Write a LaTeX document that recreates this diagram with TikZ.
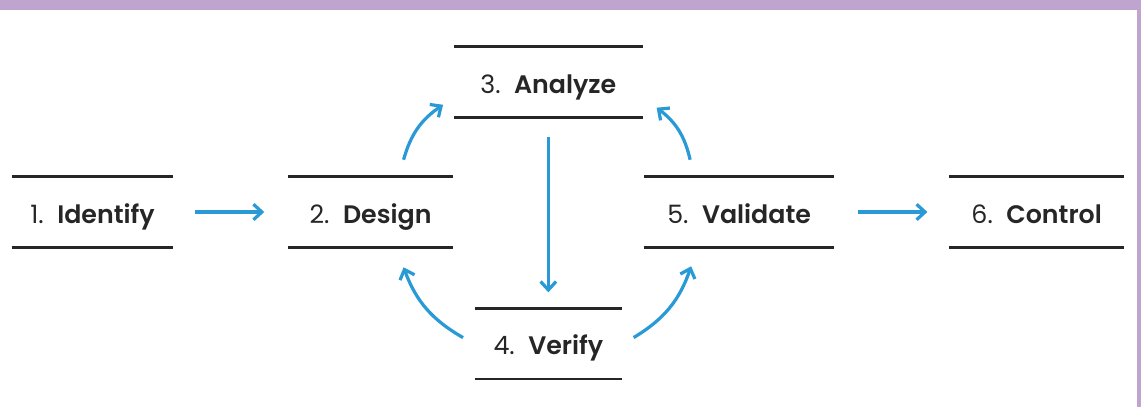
\documentclass[tikz,border=0pt]{standalone}
\usepackage{fontspec}
\setmainfont{Poppins}[BoldFont={Poppins SemiBold}]
\usepackage{xcolor}
\usetikzlibrary{arrows.meta,positioning,calc}

\definecolor{flowblue}{HTML}{2A9AD6}
\definecolor{rulegray}{HTML}{262626}
\definecolor{bandpurple}{HTML}{BEA4CF}

\begin{document}
\begin{tikzpicture}[
  node distance=2.875cm,
  stepbox/.style={rectangle, minimum height=1.75cm, inner sep=0pt, text height=0.7cm, text depth=0.15cm, align=center, font=\fontsize{18}{22}\selectfont, text=rulegray},
  rule/.style={rulegray, line width=1.8pt},
  arr/.style={-{Straight Barb[length=6pt,width=11pt]}, flowblue, line width=2.3pt}
]

% Frame
\useasboundingbox (-2.3125,-4.875) rectangle (26.2125,5.3);
\fill[bandpurple] (-2.3125,5.05) rectangle (26.2125,5.3);
\fill[bandpurple] (26.12,-4.875) rectangle (26.2125,5.3);

% Main row
\node[stepbox, minimum width=4.025cm] (identify) at (0,0) {1.\ \ \textbf{Identify}};
\node[stepbox, minimum width=4.1cm, right=of identify] (design) {2.\ \ \textbf{Design}};
\node[stepbox, minimum width=4.75cm, right=4.775cm of design] (validate) {5.\ \ \textbf{Validate}};
\node[stepbox, minimum width=4.35cm, right=of validate] (control) {6.\ \ \textbf{Control}};

% Loop above and below
\node[stepbox, minimum width=4.7cm] (analyze) at ($(design.east)!0.5!(validate.west)+(0,3.25)$) {3.\ \ \textbf{Analyze}};
\node[stepbox, minimum width=3.65cm] (verify) at ($(design.east)!0.5!(validate.west)+(0,-3.29)$) {4.\ \ \textbf{Verify}};

% Rules over and under each step
\foreach \n in {identify,design,analyze,verify,validate,control}
  \draw[rule] (\n.north west) -- (\n.north east) (\n.south west) -- (\n.south east);

% Straight arrows
\draw[arr, shorten <=0.55cm, shorten >=0.6cm] (identify) -- (design);
\draw[arr, shorten <=0.6cm, shorten >=0.55cm] (validate) -- (control);
\draw[arr, shorten <=0.5cm, shorten >=0.4cm] (analyze) -- (verify);

% Curved arrows
\draw[arr] ([xshift=0.825cm,yshift=0.425cm]design.north) to[bend left=20] ([xshift=-0.275cm,yshift=0.3125cm]analyze.south west);
\draw[arr] ([xshift=-1.225cm,yshift=0.425cm]validate.north) to[bend right=20] ([xshift=0.35cm,yshift=0.24cm]analyze.south east);
\draw[arr] ([xshift=-0.3cm,yshift=0.15cm]verify.west) to[bend left=20] ([xshift=0.825cm,yshift=-0.5cm]design.south);
\draw[arr] ([xshift=0.3cm,yshift=0.15cm]verify.east) to[bend right=20] ([xshift=-1.2cm,yshift=-0.475cm]validate.south);

\end{tikzpicture}
\end{document}
